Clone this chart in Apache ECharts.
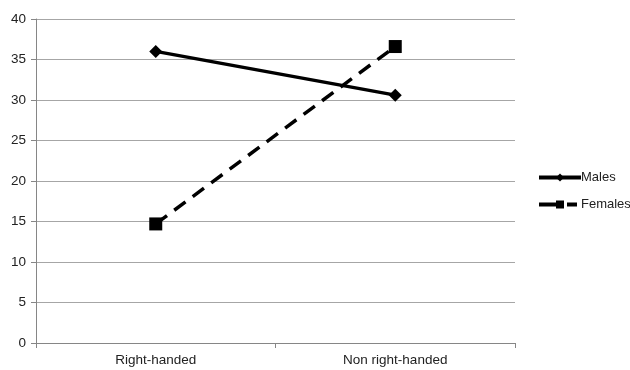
<!DOCTYPE html>
<html>
<head>
<meta charset="utf-8">
<script src="https://cdn.jsdelivr.net/npm/echarts@6/dist/echarts.min.js"></script>
<style>
html,body{margin:0;padding:0;background:#fff;}
#chart{width:630px;height:370px;}
</style>
</head>
<body>
<div id="chart"></div>
<script>
// Handedness groups on the x axis
const categories = ['Right-handed', 'Non right-handed'];
// Values per group
const males = [36.0, 30.6];
const females = [14.7, 36.6];
// Y axis range and step
const yMin = 0, yMax = 40, yStep = 5;

const font = 'Liberation Sans, Arial, sans-serif';
const chart = echarts.init(document.getElementById('chart'));
chart.setOption({
  animation: false,
  backgroundColor: '#fff',
  grid: { left: 36, right: 115, top: 19, bottom: 27 },
  legend: {
    orient: 'vertical',
    left: 537,
    top: 171,
    padding: 0,
    itemWidth: 42,
    itemHeight: 10,
    itemGap: 14,
    textStyle: { fontFamily: font, fontSize: 13, color: '#222', padding: [0, 0, 0, -5] },
    data: [
      { name: 'Males', lineStyle: { width: 4, type: 'solid' } },
      { name: 'Females', lineStyle: { width: 4, type: [20, 8, 10, 4] } }
    ]
  },
  xAxis: {
    type: 'category',
    data: categories,
    boundaryGap: true,
    axisLine: { lineStyle: { color: '#868686', width: 1 } },
    axisTick: { show: true, alignWithLabel: false, length: 5, lineStyle: { color: '#868686' } },
    axisLabel: { fontFamily: font, fontSize: 13.5, color: '#222', margin: 10 },
    splitLine: { show: false }
  },
  yAxis: {
    type: 'value',
    min: yMin, max: yMax, interval: yStep,
    axisLine: { show: true, lineStyle: { color: '#868686' } },
    axisTick: { show: true, length: 5, lineStyle: { color: '#868686' } },
    axisLabel: { fontFamily: font, fontSize: 13.5, color: '#222', margin: 10 },
    splitLine: { lineStyle: { color: '#a6a6a6', width: 1 } }
  },
  series: [
    {
      name: 'Males',
      type: 'line',
      data: males,
      symbol: 'diamond',
      symbolSize: 13,
      itemStyle: { color: '#000' },
      lineStyle: { color: '#000', width: 3.5 }
    },
    {
      name: 'Females',
      type: 'line',
      data: females,
      symbol: 'rect',
      symbolSize: 13,
      itemStyle: { color: '#000' },
      lineStyle: { color: '#000', width: 3.5, type: [14, 9] }
    }
  ]
});
</script>
</body>
</html>
